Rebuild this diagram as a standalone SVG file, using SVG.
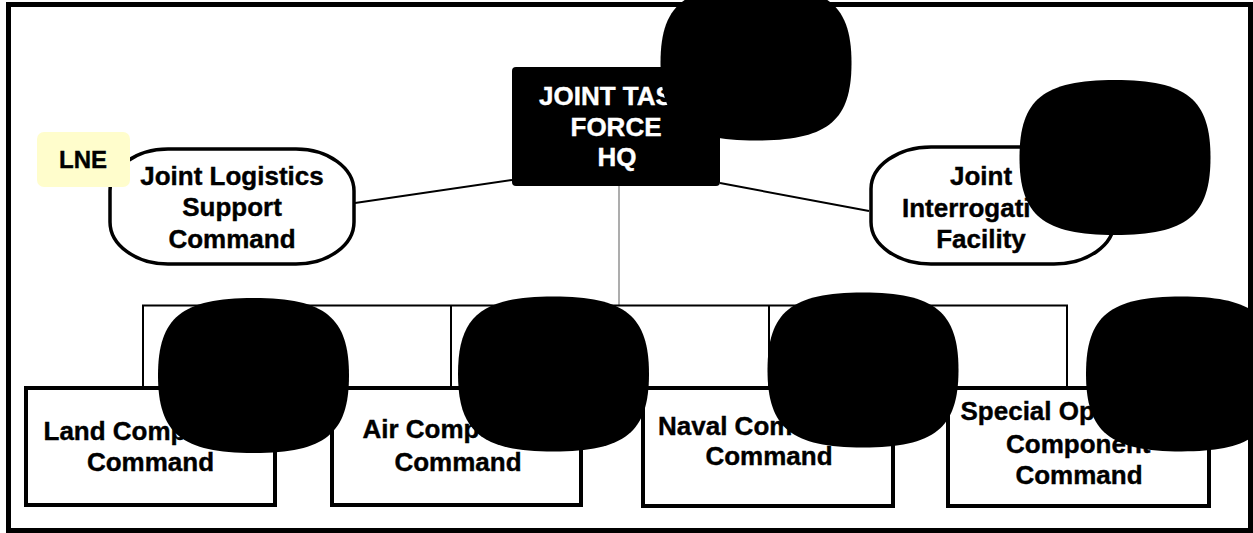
<svg xmlns="http://www.w3.org/2000/svg" xmlns:xlink="http://www.w3.org/1999/xlink" width="1253" height="533" viewBox="0 0 1253 533">
<style>
  .t { font-family: "Liberation Sans", Arial, Helvetica, sans-serif; font-weight: bold; font-size: 26px; fill: #000; stroke: #000; stroke-width: 0.4; }
  .w { fill: #fff; stroke: #fff; }
  .c { text-anchor: middle; }
  .oval { fill: #fff; stroke: #000; stroke-width: 3.5; }
  .box { fill: #fff; stroke: #000; stroke-width: 4; }
  .conn { stroke: #000; stroke-width: 2; fill: none; }
  .redact { fill: #000; }
</style>
<defs>
  <path id="blob" d="M 0,-77.5 C 71.6,-77.5 95.5,-58.1 95.5,0 C 95.5,58.1 71.6,77.5 0,77.5 C -71.6,77.5 -95.5,58.1 -95.5,0 C -95.5,-58.1 -71.6,-77.5 0,-77.5 Z"/>
</defs>
<rect x="0" y="0" width="1253" height="533" fill="#fff"/>
<rect id="frame" x="8.5" y="4.5" width="1242" height="526" fill="none" stroke="#000" stroke-width="5"/>

<g id="connectors">
  <line class="conn" x1="355" y1="203" x2="512" y2="180"/>
  <line class="conn" x1="720" y1="183" x2="869" y2="211"/>
  <line x1="619" y1="186" x2="619" y2="305" stroke="#999" stroke-width="1.6"/>
  <line class="conn" x1="142" y1="305.5" x2="1068" y2="305.5"/>
  <line class="conn" x1="143" y1="305" x2="143" y2="391"/>
  <line class="conn" x1="451" y1="305" x2="451" y2="389"/>
  <line class="conn" x1="769" y1="305" x2="769" y2="389"/>
  <line class="conn" x1="1067" y1="305" x2="1067" y2="389"/>
</g>

<g id="jtf-hq">
  <rect x="512" y="67" width="208" height="119" rx="4" fill="#000"/>
  <text class="t w" x="539" y="105">JOINT TAS</text>
  <text class="t w c" x="616" y="136">FORCE</text>
  <text class="t w c" x="617" y="166">HQ</text>
</g>

<g id="jlsc">
  <rect class="oval" x="110" y="149" width="244" height="115" rx="58" ry="42"/>
  <text class="t c" x="232" y="185">Joint Logistics</text>
  <text class="t c" x="232" y="216">Support</text>
  <text class="t c" x="232" y="248">Command</text>
</g>

<g id="lne">
  <rect x="37" y="132" width="93" height="55" rx="7" fill="#FFFDCC"/>
  <text class="t c" x="83" y="168" style="font-size:24px">LNE</text>
</g>

<g id="jif">
  <rect class="oval" x="871" y="147" width="243" height="117" rx="60" ry="42"/>
  <text class="t c" x="981" y="185">Joint</text>
  <text class="t" x="902" y="217">Interrogati</text>
  <text class="t c" x="981" y="248">Facility</text>
</g>

<g id="land">
  <rect class="box" x="26" y="388" width="249" height="117"/>
  <text class="t" x="43.5" y="440">Land Comp</text>
  <text class="t c" x="150.5" y="471">Command</text>
</g>

<g id="air">
  <rect class="box" x="332" y="388" width="249" height="117"/>
  <text class="t" x="362.5" y="438">Air Comp</text>
  <text class="t c" x="458" y="471">Command</text>
</g>

<g id="naval">
  <rect class="box" x="643" y="388" width="250" height="118"/>
  <text class="t" x="658" y="435">Naval Com</text>
  <text class="t c" x="769" y="465">Command</text>
</g>

<g id="special">
  <rect class="box" x="948" y="388" width="261" height="118"/>
  <text class="t" x="960.5" y="420">Special Op</text>
  <text class="t" x="1006" y="453">Component</text>
  <text class="t c" x="1079" y="484">Command</text>
</g>

<g id="redactions">
  <use class="redact" href="#blob" xlink:href="#blob" transform="translate(756,63)"/>
  <use class="redact" href="#blob" xlink:href="#blob" transform="translate(1115,157.5)"/>
  <use class="redact" href="#blob" xlink:href="#blob" transform="translate(253.5,375.5)"/>
  <use class="redact" href="#blob" xlink:href="#blob" transform="translate(553.5,374)"/>
  <use class="redact" href="#blob" xlink:href="#blob" transform="translate(863,370)"/>
  <use class="redact" href="#blob" xlink:href="#blob" transform="translate(1181.5,374)"/>
</g>
</svg>
